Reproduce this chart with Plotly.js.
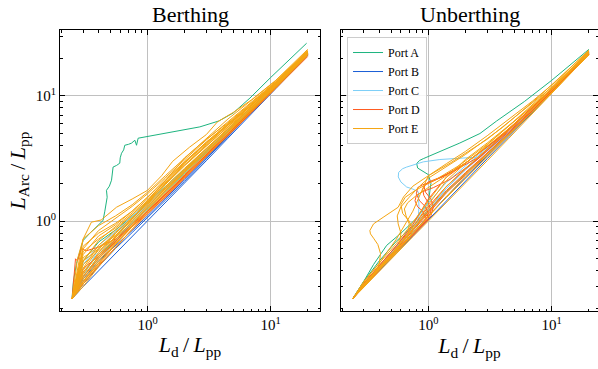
<!DOCTYPE html>
<html><head><meta charset="utf-8">
<script src="https://cdn.plot.ly/plotly-3.0.1.min.js"></script>
<style>html,body{margin:0;padding:0;background:#fff}#chart{width:598px;height:369px}</style>
</head><body><div id="chart"></div>
<script>
// ---------- DATA ----------
const ports = ['Port A', 'Port B', 'Port C', 'Port D', 'Port E'];
const panelTitles = ['Berthing', 'Unberthing'];
const tickValues = [0.1, 1, 10];
const tickLabels = ['10<sup>-1</sup>', '10<sup>0</sup>', '10<sup>1</sup>'];

// common L_d / L_pp sample positions
const xGrid = [0.244, 0.3, 0.4, 0.55, 0.75, 1, 1.4, 2, 3, 4.5, 7, 11, 20];

// ---- Berthing ----
const bA1x = [0.244,0.25,0.265,0.28,0.30,0.34,0.385,0.41,0.435,0.45,0.464,0.47,0.464,0.49,0.51,0.52,0.525,0.56,0.595,0.6,0.615,0.64,0.653,0.7,0.741,0.789,0.814,0.839,0.9,0.98,1.5,2.66,3.8,4.97,6.79,10,19.6];
const bA1y = [0.247,0.33,0.459,0.55,0.70,0.80,0.895,0.95,1.01,1.2,1.39,1.55,1.76,1.9,2.12,2.4,2.70,2.78,2.90,3.2,3.48,3.7,4.03,4.1,4.19,4.42,4.03,4.59,4.65,4.70,5.1,5.65,6.3,7.3,9.6,14.0,26.3];
const bA2 = [0.24,0.48,0.68,0.85,1.09,1.40,1.89,2.60,3.75,5.40,8.05,12.3,22.0];
const bA3 = [0.24,0.36,0.52,0.715,0.96,1.25,1.71,2.40,3.48,5.09,7.70,11.88,21.2];
const bB1 = [0.24,0.30,0.40,0.55,0.75,1.0,1.40,2.0,3.03,4.59,7.21,11.44,21.0];
const bB2 = [0.24,0.315,0.432,0.605,0.81,1.06,1.47,2.08,3.12,4.73,7.35,11.66,21.4];
const bB3 = [0.24,0.345,0.48,0.633,0.84,1.10,1.51,2.14,3.18,4.77,7.42,11.77,21.6];
const bC1 = [0.24,0.39,0.56,0.74,0.975,1.30,1.82,2.50,3.60,5.22,7.84,12.1,22.0];
const bC2 = [0.24,0.45,0.64,0.825,1.09,1.40,1.89,2.60,3.66,5.31,8.05,12.43,22.4];
const bC3 = [0.24,0.33,0.48,0.69,0.975,1.25,1.71,2.40,3.54,5.18,7.84,12.1,21.8];
const bC4 = [0.24,0.36,0.60,0.80,1.035,1.35,1.86,2.60,3.78,5.40,8.05,12.2,22.0];
const bD1x = [0.244,0.255,0.26,0.27,0.29,0.32,0.4,0.55,0.75,1,1.4,2,3,4.5,7,11,20];
const bD1y = [0.24,0.42,0.5,0.48,0.6,0.58,0.62,0.72,0.9,1.15,1.55,2.2,3.3,4.9,7.6,11.9,21.5];
const bD2 = [0.24,0.33,0.46,0.66,0.90,1.18,1.61,2.24,3.30,4.86,7.49,11.77,21.4];
const bD3 = [0.24,0.39,0.54,0.715,0.94,1.20,1.61,2.24,3.30,4.91,7.56,11.88,21.6];
const bD4 = [0.24,0.315,0.44,0.616,0.86,1.14,1.57,2.20,3.24,4.77,7.35,11.44,20.6];
const bD5 = [0.24,0.36,0.50,0.69,0.915,1.20,1.65,2.30,3.36,4.95,7.63,11.88,21.4];
const bD6 = [0.24,0.42,0.52,0.69,0.915,1.20,1.65,2.32,3.39,4.95,7.56,11.66,21.2];
const bE1x = [0.244,0.27,0.3,0.35,0.42,0.56,0.75,1,1.3,1.6,2.2,3,3.7,4,5,7,11,20];
const bE1y = [0.24,0.5,0.72,0.98,1.02,1.29,1.5,1.76,2.3,3.0,3.9,4.9,6.2,6.5,7.4,9.3,13.3,23.5];
const bE2 = [0.24,0.60,0.84,1.045,1.31,1.65,2.24,3.10,4.44,6.21,8.89,12.98,22.8];
const bE3 = [0.24,0.54,0.76,0.935,1.20,1.55,2.10,3.20,4.50,6.08,8.75,12.87,22.6];
const bE4 = [0.24,0.48,0.70,0.91,1.16,1.50,2.03,2.80,4.05,5.85,8.54,12.65,22.4];
const bE5 = [0.24,0.42,0.64,0.85,1.125,1.45,1.96,2.76,3.96,5.63,8.40,12.54,22.2];
const bE6 = [0.24,0.375,0.56,0.80,1.065,1.38,1.89,2.64,3.84,5.49,8.19,12.43,22.0];
const bE7 = [0.24,0.345,0.50,0.715,1.0,1.32,1.82,2.56,3.75,5.40,8.05,12.32,22.0];
const bE8 = [0.24,0.45,0.58,0.74,0.975,1.28,1.76,2.48,3.60,5.22,7.84,12.1,21.6];
const bE9 = [0.24,0.324,0.46,0.66,0.915,1.22,1.68,2.36,3.45,5.04,7.70,11.88,21.4];
const bE10 = [0.24,0.57,0.72,0.88,1.125,1.45,2.10,2.90,4.26,5.94,8.54,12.76,22.4];
const bE11 = [0.24,0.405,0.60,0.814,1.065,1.36,1.85,2.60,3.78,5.40,8.05,12.32,22.0];
const bE12 = [0.24,0.30,0.432,0.616,0.86,1.15,1.60,2.24,3.30,4.86,7.42,11.55,21.0];
const bE13 = [0.24,0.72,0.92,1.10,1.35,1.70,2.31,3.16,4.56,6.53,9.24,13.2,23.0];
const bE14 = [0.24,0.51,0.62,0.77,1.035,1.40,1.99,2.90,4.14,5.76,8.40,12.54,22.2];
const bE15 = [0.24,0.36,0.52,0.74,1.035,1.45,2.10,2.96,4.20,5.85,8.40,12.43,22.0];
const bE16 = [0.24,0.48,0.60,0.77,1.01,1.32,1.82,2.54,3.66,5.27,7.91,12.1,21.8];
const bE17 = [0.24,0.39,0.54,0.76,1.05,1.42,1.99,2.80,3.99,5.63,8.19,12.32,22.0];
const bE18 = [0.24,0.33,0.48,0.68,0.945,1.27,1.78,2.50,3.60,5.18,7.77,11.99,21.6];
const bE19 = [0.24,0.63,0.80,0.96,1.20,1.55,2.17,3.0,4.26,5.99,8.68,12.76,22.6];
const bE20 = [0.24,0.315,0.448,0.65,0.90,1.22,1.74,2.44,3.54,5.09,7.63,11.77,21.4];

// ---- Unberthing ----
const uA1x = [0.244,0.3,0.36,0.46,0.6,0.8,1.0,1.05,1.0,0.9,0.82,0.805,0.85,0.91,1.24,1.8,2.62,3.58,6,10,20];
const uA1y = [0.24,0.33,0.45,0.64,0.8,1.05,1.4,2.0,2.35,2.5,2.65,2.88,3.05,3.15,3.57,4.2,5.0,6.3,9.0,13.3,23.5];
const uA2 = [0.24,0.33,0.48,0.69,0.915,1.20,1.71,2.40,3.45,5.04,7.70,12.0,22.0];
const uB1 = [0.24,0.30,0.40,0.555,0.765,1.03,1.46,2.10,3.15,4.73,7.35,11.66,21.6];
const uB2 = [0.24,0.306,0.412,0.578,0.80,1.10,1.57,2.24,3.30,4.86,7.49,11.77,21.6];
const uC1x = [0.244,0.3,0.4,0.55,0.7,0.82,0.84,0.83,0.75,0.668,0.6,0.571,0.575,0.62,0.668,0.78,0.91,1.24,1.7,2.62,4,7,12,20];
const uC1y = [0.24,0.30,0.41,0.57,0.73,0.9,1.3,1.71,1.8,1.87,2.05,2.25,2.45,2.62,2.70,2.85,2.97,3.10,3.15,3.25,4.6,7.8,12.8,22.5];
const uC2 = [0.24,0.318,0.44,0.633,0.94,1.40,2.03,2.76,3.84,5.40,7.98,12.2,22.2];
const uC3 = [0.24,0.312,0.432,0.616,0.885,1.25,1.82,2.56,3.60,5.13,7.70,12.0,22.0];
const uC4 = [0.24,0.309,0.42,0.594,0.84,1.20,1.82,2.64,3.75,5.31,7.84,12.1,22.0];
const uD1x = [0.244,0.3,0.4,0.55,0.75,0.95,1.0,0.95,0.85,0.8,0.82,0.9,1.0,1.3,2,4,8,20];
const uD1y = [0.24,0.3,0.41,0.57,0.78,1.0,1.15,1.3,1.45,1.65,1.85,1.95,2.02,2.25,2.9,4.9,9.2,22.0];
const uD2x = [0.244,0.3,0.4,0.55,0.75,0.9,0.95,0.9,0.82,0.78,0.8,0.9,1.1,1.5,2.5,5,10,20];
const uD2y = [0.24,0.31,0.42,0.58,0.79,0.95,1.05,1.2,1.3,1.45,1.6,1.72,1.85,2.15,3.1,5.8,11.0,21.6];
const uD3x = [0.244,0.32,0.45,0.65,0.85,1.05,1.1,1.05,0.95,0.92,1.0,1.2,1.6,2.5,5,10,20];
const uD3y = [0.24,0.33,0.47,0.68,0.9,1.1,1.3,1.5,1.7,1.9,2.05,2.2,2.5,3.2,5.9,11.2,21.8];
const uD4 = [0.24,0.31,0.424,0.605,0.86,1.20,1.75,2.44,3.48,5.04,7.63,11.88,21.6];
const uD5 = [0.24,0.315,0.44,0.627,0.90,1.30,1.89,2.60,3.66,5.18,7.70,12.0,21.8];
const uD6 = [0.24,0.306,0.42,0.594,0.84,1.15,1.68,2.36,3.42,4.95,7.56,11.77,21.4];
const uD7 = [0.24,0.318,0.44,0.633,0.94,1.50,2.24,2.90,3.90,5.40,7.91,12.1,21.8];
const uD8x = [0.244,0.3,0.4,0.55,0.75,0.98,1.05,1.0,0.92,0.9,0.95,1.1,1.4,2,3.5,7,20];
const uD8y = [0.24,0.3,0.41,0.57,0.77,1.0,1.2,1.4,1.6,1.8,1.95,2.1,2.35,2.9,4.4,8.1,21.9];
const uE1x = [0.244,0.3,0.36,0.4,0.41,0.39,0.36,0.34,0.336,0.36,0.43,0.5,0.57,0.63,0.75,1.0,1.5,3,6,11,20];
const uE1y = [0.24,0.31,0.38,0.45,0.55,0.65,0.73,0.79,0.84,0.95,1.07,1.18,1.29,1.56,1.9,2.3,2.9,4.5,7.8,12.6,22.6];
const uE2x = [0.244,0.3,0.4,0.5,0.58,0.6,0.57,0.56,0.6,0.7,0.85,1.0,1.3,2,4,8,20];
const uE2y = [0.24,0.3,0.41,0.52,0.62,0.8,0.95,1.1,1.3,1.55,1.9,2.2,2.6,3.4,5.6,10.0,23.0];
const uE3x = [0.244,0.3,0.4,0.55,0.7,0.75,0.7,0.62,0.6,0.65,0.78,0.95,1.2,1.8,3,6,12,20];
const uE3y = [0.24,0.3,0.41,0.56,0.72,0.85,1.0,1.15,1.35,1.55,1.75,1.95,2.2,2.8,4.1,7.3,13.4,22.8];
const uE4 = [0.24,0.297,0.40,0.55,0.75,1.0,1.40,2.0,3.03,4.59,7.21,11.55,21.4];
const uE5 = [0.24,0.306,0.416,0.583,0.81,1.10,1.54,2.20,3.24,4.82,7.42,11.66,21.4];
const uE6 = [0.24,0.315,0.432,0.605,0.86,1.25,1.89,2.64,3.75,5.31,7.84,12.1,22.0];
const uE7 = [0.24,0.33,0.46,0.66,0.975,1.45,2.24,3.10,4.20,5.76,8.26,12.43,22.4];
const uE8 = [0.24,0.324,0.46,0.715,1.2,2.3,2.87,3.6,4.8,6.53,9.1,13.2,23.2];
const uE9 = [0.24,0.309,0.424,0.605,0.84,1.18,1.71,2.40,3.45,4.95,7.49,11.66,21.2];
const uE10 = [0.24,0.303,0.408,0.567,0.79,1.08,1.57,2.30,3.36,4.91,7.49,11.66,21.4];
const uE11 = [0.24,0.312,0.424,0.605,0.90,1.35,2.10,2.90,3.96,5.49,7.98,12.1,22.0];
const uE12x = [0.244,0.3,0.4,0.55,0.68,0.7,0.66,0.64,0.68,0.8,1.0,1.4,2.2,4,8,20];
const uE12y = [0.24,0.31,0.42,0.58,0.73,0.95,1.1,1.25,1.4,1.6,1.85,2.3,3.1,5.2,9.6,22.4];

// ---------- BUILD ----------
const portColors = {'Port A':'#1db47f','Port B':'#1a5ed6','Port C':'#7dcff7','Port D':'#ff5a1f','Port E':'#f5a512'};

const berthingLines = [
  ['Port A', bA1x, bA1y], ['Port A', xGrid, bA2], ['Port A', xGrid, bA3],
  ['Port B', xGrid, bB1], ['Port B', xGrid, bB2], ['Port B', xGrid, bB3],
  ['Port C', xGrid, bC1], ['Port C', xGrid, bC2], ['Port C', xGrid, bC3], ['Port C', xGrid, bC4],
  ['Port D', bD1x, bD1y], ['Port D', xGrid, bD2], ['Port D', xGrid, bD3], ['Port D', xGrid, bD4], ['Port D', xGrid, bD5], ['Port D', xGrid, bD6],
  ['Port E', bE1x, bE1y], ['Port E', xGrid, bE2], ['Port E', xGrid, bE3], ['Port E', xGrid, bE4], ['Port E', xGrid, bE5],
  ['Port E', xGrid, bE6], ['Port E', xGrid, bE7], ['Port E', xGrid, bE8], ['Port E', xGrid, bE9], ['Port E', xGrid, bE10],
  ['Port E', xGrid, bE11], ['Port E', xGrid, bE12], ['Port E', xGrid, bE13], ['Port E', xGrid, bE14], ['Port E', xGrid, bE15],
  ['Port E', xGrid, bE16], ['Port E', xGrid, bE17], ['Port E', xGrid, bE18], ['Port E', xGrid, bE19], ['Port E', xGrid, bE20]
];
const unberthingLines = [
  ['Port A', uA1x, uA1y], ['Port A', xGrid, uA2],
  ['Port B', xGrid, uB1], ['Port B', xGrid, uB2],
  ['Port C', uC1x, uC1y], ['Port C', xGrid, uC2], ['Port C', xGrid, uC3], ['Port C', xGrid, uC4],
  ['Port D', uD1x, uD1y], ['Port D', uD2x, uD2y], ['Port D', uD3x, uD3y], ['Port D', xGrid, uD4], ['Port D', xGrid, uD5],
  ['Port D', xGrid, uD6], ['Port D', xGrid, uD7], ['Port D', uD8x, uD8y],
  ['Port E', uE1x, uE1y], ['Port E', uE2x, uE2y], ['Port E', uE3x, uE3y], ['Port E', xGrid, uE4], ['Port E', xGrid, uE5],
  ['Port E', xGrid, uE6], ['Port E', xGrid, uE7], ['Port E', xGrid, uE8], ['Port E', xGrid, uE9],
  ['Port E', xGrid, uE10], ['Port E', xGrid, uE11], ['Port E', uE12x, uE12y]
];

const traces = [];
const shown = {};
function addLines(lines, xa, ya) {
  lines.forEach(([port, xs, ys]) => {
    const first = !shown[port];
    shown[port] = true;
    traces.push({
      type: 'scatter', mode: 'lines', x: xs, y: ys, name: port,
      legendgroup: port, showlegend: first,
      line: {color: portColors[port], width: 1},
      xaxis: xa, yaxis: ya, hoverinfo: 'skip'
    });
  });
}
addLines(berthingLines, 'x', 'y');
addLines(unberthingLines, 'x2', 'y2');
traces.sort((a, b) => ports.indexOf(a.name) - ports.indexOf(b.name));

const FONT = '"Liberation Serif", "DejaVu Serif", serif';
const minorVals = [0.2,0.3,0.4,0.5,0.6,0.7,0.8,0.9,2,3,4,5,6,7,8,9,20,30,40];
function axisStyle(extra) {
  return Object.assign({
    type: 'log', tickmode: 'array', tickvals: tickValues, ticktext: tickLabels,
    ticks: 'inside', ticklen: 5, tickwidth: 1, tickcolor: '#000',
    showline: true, linecolor: '#000', linewidth: 1, mirror: 'allticks',
    showgrid: true, gridcolor: '#c0c0c0', gridwidth: 1, zeroline: false,
    tickfont: {family: FONT, size: 15, color: '#000'},
    minor: {tickmode: 'array', tickvals: minorVals, ticks: 'inside', ticklen: 2.5, tickwidth: 1, tickcolor: '#000', showgrid: false}
  }, extra);
}
const TS = '\u2009';
const xTitle = {text: '<i>L</i><sub>d</sub>' + TS + '/' + TS + '<i>L</i><sub>pp</sub>', font: {family: FONT, size: 22, color: '#000'}, standoff: 4};

const layout = {
  width: 598, height: 369,
  margin: {l: 60, r: 0, t: 30, b: 58, pad: 0},
  paper_bgcolor: '#fff', plot_bgcolor: '#fff',
  font: {family: FONT, color: '#000'},
  showlegend: true,
  legend: {x: 0.5335, y: 0.975, xanchor: 'left', yanchor: 'top', bgcolor: 'rgba(255,255,255,0.85)',
           bordercolor: '#cccccc', borderwidth: 1, font: {family: FONT, size: 12, color: '#000'},
           tracegroupgap: 0, itemwidth: 30},
  xaxis: axisStyle({domain: [0, 0.4833], range: [-0.711, 1.401], anchor: 'y', title: xTitle}),
  xaxis2: axisStyle({domain: [0.5223, 1], range: [-0.7075, 1.375], anchor: 'y2', title: xTitle}),
  yaxis: axisStyle({domain: [0, 1], range: [-0.718, 1.5256], anchor: 'x',
    title: {text: '<i>L</i><sub>Arc</sub>' + TS + '/' + TS + '<i>L</i><sub>pp</sub>', font: {family: FONT, size: 22, color: '#000'}, standoff: 4}}),
  yaxis2: axisStyle({domain: [0, 1], range: [-0.718, 1.5256], anchor: 'x2', showticklabels: false}),
  annotations: [
    {text: panelTitles[0], xref: 'paper', yref: 'paper', x: 0.2417, y: 1, xanchor: 'center', yanchor: 'bottom', yshift: 1, showarrow: false, font: {family: FONT, size: 22, color: '#000'}},
    {text: panelTitles[1], xref: 'paper', yref: 'paper', x: 0.7612, y: 1, xanchor: 'center', yanchor: 'bottom', yshift: 1, showarrow: false, font: {family: FONT, size: 22, color: '#000'}}
  ]
};
Plotly.newPlot('chart', traces, layout, {displayModeBar: false, staticPlot: true});
</script></body></html>
